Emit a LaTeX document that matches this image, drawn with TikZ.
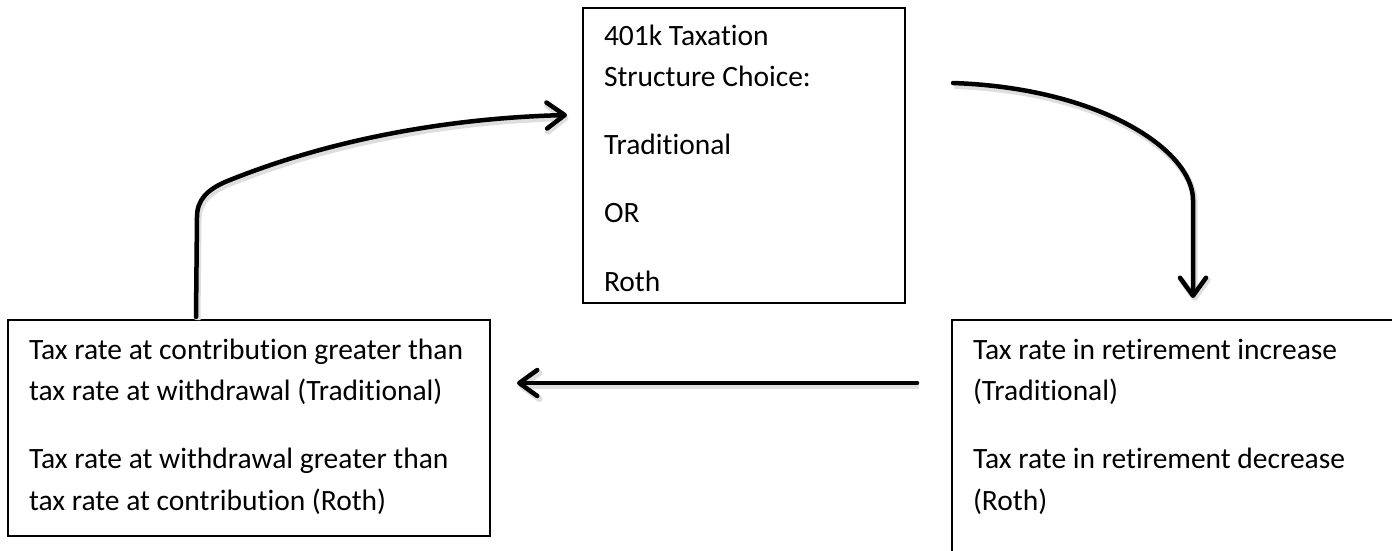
\documentclass[tikz,border=0pt]{standalone}
\usepackage{fontspec}
\setmainfont{Carlito}[Ligatures=NoCommon]
\usetikzlibrary{arrows.meta,calc}
\newcommand{\boxbody}[4]{%
  \begin{minipage}[t][#2pt][t]{#1pt}%
  \fontsize{29.5}{41.4}\selectfont\raggedright
  \leftskip=21pt\parindent=0pt\parskip=26.8pt
  \rule{0pt}{#3pt}#4%
  \end{minipage}}
\tikzset{
  txbox/.style={draw=black, line width=1.4pt, anchor=north west, inner sep=0pt, outer sep=0pt},
  arr/.style={line width=4.5pt, line cap=round, line join=round,
    -{Straight Barb[length=18pt,width=26pt,round]},
    preaction={draw=black!13, line width=6pt, transform canvas={shift={(1.5,3)}}}}
}
\begin{document}
\begin{tikzpicture}[x=1pt,y=-1pt]
\useasboundingbox (0,0) rectangle (1392,550);
\clip (0,0) rectangle (1392,550);
\fill[white] (0,0) rectangle (1392,550);

\node[txbox] (top) at (583,8) {\boxbody{322}{295}{37}{401k Taxation\\Structure Choice:\par Traditional\par OR\par Roth}};

\node[txbox] (lbox) at (8,320) {\boxbody{482}{216}{39}{Tax rate at contribution greater than\\tax rate at withdrawal (Traditional)\par Tax rate at withdrawal greater than\\tax rate at contribution (Roth)}};

\node[txbox] (rbox) at (952,320) {\boxbody{520}{300}{39}{Tax rate in retirement increase\\(Traditional)\par Tax rate in retirement decrease\\(Roth)}};

% left box -> top box
\draw[arr] ($(lbox.north west)+(188,-3)$) -- ++(1,-100)
  .. controls +(0,-17) and +(-18,8) .. ++(28,-35)
  .. controls +(105,-43) and +(-117,3) .. ($(top.north west)+(-16,107)$);

% top box -> right box
\draw[arr] ($(top.north east)+(48,75)$)
  .. controls +(147,5) and +(0,-50) .. ++(240,117)
  -- ($(rbox.north west)+(241,-22)$);

% right box -> left box
\draw[arr] ($(rbox.north west)+(-35,63)$) -- ($(lbox.north east)+(27,63)$);
\end{tikzpicture}
\end{document}
